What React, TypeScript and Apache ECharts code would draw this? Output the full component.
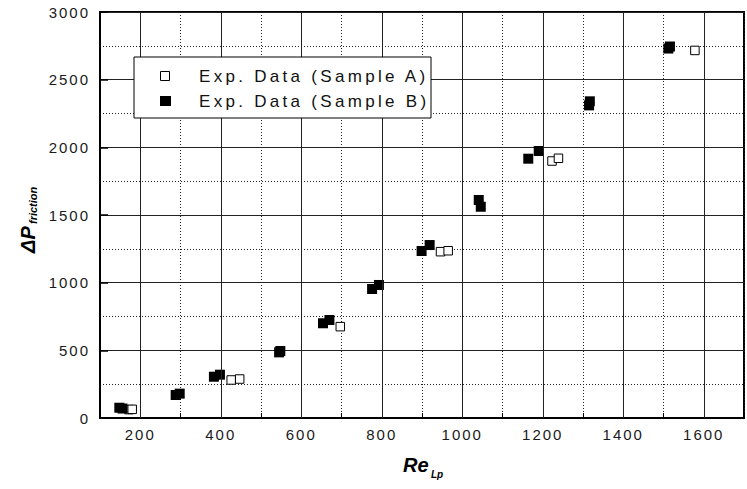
import React, { useEffect, useRef } from 'react';
import * as echarts from 'echarts';

// Tick labels
const X_TICKS = [200, 400, 600, 800, 1000, 1200, 1400, 1600];
const Y_TICKS = [0, 500, 1000, 1500, 2000, 2500, 3000];

// Sample A (open squares)
const SAMPLE_A_RE = [172, 180, 426, 447, 697, 946, 965, 1223, 1239, 1578];
const SAMPLE_A_DP = [62, 64, 281, 288, 675, 1229, 1236, 1899, 1919, 2716];

// Sample B (filled squares)
const SAMPLE_B_RE = [148, 156, 288, 298, 383, 398, 545, 548, 654, 670, 776, 793, 899, 919, 1041, 1046, 1164, 1190, 1315, 1317, 1512, 1516];
const SAMPLE_B_DP = [76, 70, 170, 180, 305, 320, 485, 495, 700, 724, 953, 983, 1234, 1278, 1611, 1561, 1916, 1973, 2310, 2340, 2730, 2745];

const LEGEND_NAMES = ['Exp. Data (Sample A)', 'Exp. Data (Sample B)'];

const FONT = '"Liberation Sans", Arial, Helvetica, sans-serif';

export default function App() {
  const ref = useRef<HTMLDivElement>(null);

  useEffect(() => {
    const el = ref.current;
    if (!el) return;
    const chart = echarts.init(el, undefined, { renderer: 'svg' });

    const dataA = SAMPLE_A_RE.map((x, i) => [x, SAMPLE_A_DP[i]]);
    const dataB = SAMPLE_B_RE.map((x, i) => [x, SAMPLE_B_DP[i]]);

    const option: any = {
      animation: false,
      backgroundColor: '#ffffff',
      grid: {
        left: 100,
        top: 12,
        width: 648,
        height: 406,
        show: true,
        borderColor: '#000',
        borderWidth: 2,
        backgroundColor: 'transparent',
      },
      xAxis: {
        type: 'value',
        min: 100,
        max: 1700,
        interval: 100,
        axisLine: { show: true, onZero: false, lineStyle: { color: '#000', width: 2 } },
        axisTick: { show: true, inside: true, length: 5, lineStyle: { color: '#000', width: 1 } },
        axisLabel: {
          formatter: (v: number) => (X_TICKS.includes(Math.round(v)) ? String(Math.round(v)) : ''),
          color: '#1a1a1a',
          fontSize: 15,
          fontFamily: FONT,
          margin: 9,
        },
        splitLine: { show: true, lineStyle: { color: '#222', type: [1, 2], width: 1 } },
      },
      yAxis: {
        type: 'value',
        min: Y_TICKS[0],
        max: Y_TICKS[Y_TICKS.length - 1],
        interval: 500,
        axisLine: { show: true, onZero: false, lineStyle: { color: '#000', width: 2 } },
        axisTick: { show: true, inside: true, length: 8, lineStyle: { color: '#000', width: 1.5 } },
        axisLabel: {
          formatter: (v: number) => String(Math.round(v)),
          color: '#1a1a1a',
          fontSize: 15,
          fontFamily: FONT,
          margin: 10,
        },
        splitLine: { show: true, lineStyle: { color: '#222', width: 1 } },
        minorTick: { show: false, splitNumber: 2 },
        minorSplitLine: { show: true, lineStyle: { color: '#222', type: [1, 2], width: 1 } },
      },
      series: [
        {
          type: 'line',
          data: [],
          silent: true,
          z: 1,
          markLine: {
            silent: true,
            symbol: ['none', 'none'],
            label: { show: false },
            lineStyle: { color: '#222', type: 'solid', width: 1 },
            data: X_TICKS.map((v) => ({ xAxis: v })),
          },
        },
        {
          name: LEGEND_NAMES[0],
          type: 'scatter',
          symbol: 'rect',
          symbolSize: 8.5,
          itemStyle: { color: '#fff', borderColor: '#000', borderWidth: 1, opacity: 1 },
          data: dataA,
          z: 3,
        },
        {
          name: LEGEND_NAMES[1],
          type: 'scatter',
          symbol: 'rect',
          symbolSize: 10,
          itemStyle: { color: '#000', opacity: 1 },
          data: dataB,
          z: 4,
        },
      ],
      graphic: [
        {
          type: 'rect',
          z: 100,
          shape: { x: 134, y: 57, width: 297, height: 61 },
          style: { fill: '#fff', stroke: '#000', lineWidth: 1 },
        },
        {
          type: 'rect',
          z: 101,
          shape: { x: 160.5, y: 71.5, width: 9, height: 9 },
          style: { fill: '#fff', stroke: '#000', lineWidth: 1 },
        },
        {
          type: 'rect',
          z: 101,
          shape: { x: 160, y: 96, width: 11, height: 10 },
          style: { fill: '#000' },
        },
        {
          type: 'text',
          z: 101,
          x: 199,
          y: 76,
          style: {
            text: LEGEND_NAMES[0],
            fontSize: 17,
            fontFamily: FONT,
            fill: '#111',
            align: 'left',
            verticalAlign: 'middle',
          },
        },
        {
          type: 'text',
          z: 101,
          x: 199,
          y: 101,
          style: {
            text: LEGEND_NAMES[1],
            fontSize: 17,
            fontFamily: FONT,
            fill: '#111',
            align: 'left',
            verticalAlign: 'middle',
          },
        },
        {
          type: 'text',
          x: 403,
          y: 465,
          style: {
            text: 'Re',
            fontSize: 20,
            fontWeight: 'bold',
            fontStyle: 'italic',
            fontFamily: FONT,
            fill: '#000',
            align: 'left',
            verticalAlign: 'middle',
          },
        },
        {
          type: 'text',
          x: 431,
          y: 474.5,
          style: {
            text: 'Lp',
            fontSize: 10,
            fontWeight: 'bold',
            fontStyle: 'italic',
            fontFamily: FONT,
            fill: '#000',
            align: 'left',
            verticalAlign: 'middle',
          },
        },
        {
          type: 'text',
          x: 27.5,
          y: 253,
          rotation: Math.PI / 2,
          style: {
            text: 'ΔP',
            fontSize: 20,
            fontWeight: 'bold',
            fontStyle: 'italic',
            fontFamily: FONT,
            fill: '#000',
            align: 'left',
            verticalAlign: 'middle',
          },
        },
        {
          type: 'text',
          x: 33,
          y: 224,
          rotation: Math.PI / 2,
          style: {
            text: 'friction',
            fontSize: 11,
            fontWeight: 'bold',
            fontStyle: 'italic',
            fontFamily: FONT,
            fill: '#000',
            align: 'left',
            verticalAlign: 'middle',
          },
        },
      ],
    };

    chart.setOption(option);

    const applySpacing = () => {
      el.querySelectorAll('text').forEach((t) => {
        const s = t.textContent || '';
        if (s.startsWith('Exp.')) {
          t.setAttribute('letter-spacing', '3.3');
        } else if (/^\d+$/.test(s)) {
          t.setAttribute('letter-spacing', '2');
        }
      });
    };
    applySpacing();
    chart.on('finished', applySpacing);
    const timer = window.setTimeout(applySpacing, 50);

    return () => {
      window.clearTimeout(timer);
      chart.dispose();
    };
  }, []);

  return (
    <div
      ref={ref}
      style={{ position: 'absolute', left: 0, top: 0, width: 747, height: 489, background: '#fff' }}
    />
  );
}
